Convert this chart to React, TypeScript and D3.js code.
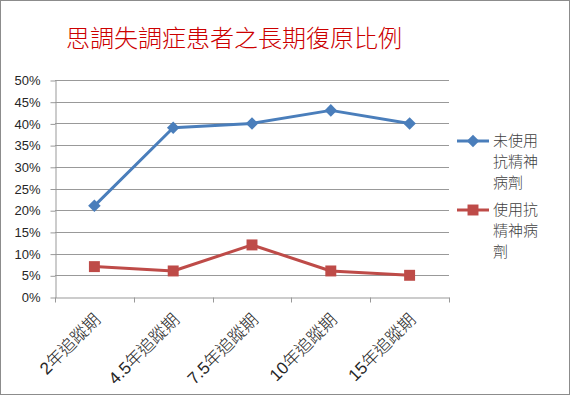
import { useRef, useEffect } from "react";
import * as d3 from "d3";

const categories = ["2年追蹤期", "4.5年追蹤期", "7.5年追蹤期", "10年追蹤期", "15年追蹤期"];
const noDrug = [21, 39, 40, 43, 40];
const withDrug = [7, 6, 12, 6, 5];
const yTicks = [0, 5, 10, 15, 20, 25, 30, 35, 40, 45, 50];
const legendNoDrug = ["未使用", "抗精神", "病劑"];
const legendWithDrug = ["使用抗", "精神病", "劑"];

export default function App() {
  const gRef = useRef(null);

  useEffect(() => {
    const w = 570;
    const h = 395;
    const left = 55;
    const right = 449;
    const top = 80;
    const bottom = 297;
    const font = "'Liberation Sans', 'Noto Sans CJK TC', sans-serif";
    const grid = "#999";

    const g = d3.select(gRef.current);
    g.selectAll("*").remove();

    // background + frame
    g.append("rect").attr("x", 0.5).attr("y", 0.5).attr("width", w - 1).attr("height", h - 1)
      .attr("fill", "#fff").attr("stroke", "#8c8c8c").attr("stroke-width", 1);

    g.append("text").attr("x", 234).attr("y", 47).attr("text-anchor", "middle")
      .attr("font-family", "'Noto Sans CJK TC', sans-serif").attr("font-size", 24)
      .attr("font-weight", 300)
      .attr("fill", "#cc0000").text("思調失調症患者之長期復原比例");

    const x = d3.scaleBand().domain(categories).range([left, right]);
    const y = d3.scaleLinear().domain([0, 50]).range([bottom, top]);

    // gridlines
    g.append("g").selectAll("line").data(yTicks.slice(1)).join("line")
      .attr("x1", left).attr("x2", right)
      .attr("y1", (d) => Math.round(y(d)) + 0.5).attr("y2", (d) => Math.round(y(d)) + 0.5)
      .attr("stroke", grid).attr("stroke-width", 1);

    // y axis
    const yAxis = g.append("g").attr("transform", `translate(${left + 0.5},0.5)`)
      .call(d3.axisLeft(y).tickValues(yTicks).tickSize(5).tickSizeOuter(0).tickFormat((d) => `${d}%`));
    yAxis.select(".domain").attr("stroke", grid);
    yAxis.selectAll(".tick line").attr("stroke", grid);
    yAxis.selectAll(".tick text").attr("x", -15).attr("font-family", font).attr("font-size", 13).attr("fill", "#262626");

    // x axis
    const xAxis = g.append("g").attr("transform", `translate(0,${bottom + 0.5})`)
      .call(d3.axisBottom(x).tickSize(0).tickSizeOuter(0));
    xAxis.select(".domain").attr("stroke", grid);
    const edges = categories.map((c) => x(c)!).concat([right]);
    xAxis.append("g").selectAll("line").data(edges).join("line")
      .attr("x1", (d) => Math.round(d) + 0.5).attr("x2", (d) => Math.round(d) + 0.5)
      .attr("y1", 0).attr("y2", 5).attr("stroke", grid);
    xAxis.selectAll(".tick text")
      .attr("font-family", "'Liberation Sans', 'Noto Sans CJK TC', sans-serif")
      .attr("font-size", 17).attr("font-weight", 300).attr("fill", "#262626")
      .attr("text-anchor", "end").attr("dy", "0.35em")
      .attr("transform", "translate(3,19) rotate(-45)")
      .attr("y", 0).attr("x", 0);

    const cx = (i: number) => x(categories[i])! + x.bandwidth() / 2;
    const line = d3.line<number>().x((_, i) => cx(i)).y((d) => y(d));

    const blue = "#4a7ebb";
    const red = "#be4b48";

    g.append("path").datum(noDrug).attr("d", line).attr("fill", "none")
      .attr("stroke", blue).attr("stroke-width", 3).attr("stroke-linejoin", "round");
    g.append("path").datum(withDrug).attr("d", line).attr("fill", "none")
      .attr("stroke", red).attr("stroke-width", 3).attr("stroke-linejoin", "round");

    const diamond = d3.symbol().type(d3.symbolDiamond2).size(100);
    const square = d3.symbol().type(d3.symbolSquare).size(120);

    g.append("g").selectAll("path").data(noDrug).join("path")
      .attr("d", diamond).attr("fill", blue)
      .attr("transform", (d, i) => `translate(${cx(i)},${y(d)})`);
    g.append("g").selectAll("path").data(withDrug).join("path")
      .attr("d", square).attr("fill", red)
      .attr("transform", (d, i) => `translate(${cx(i)},${y(d)})`);

    // legend
    const legend = [
      { color: blue, sym: diamond, lines: legendNoDrug, y0: 141 },
      { color: red, sym: square, lines: legendWithDrug, y0: 210 },
    ];
    legend.forEach((l) => {
      g.append("line").attr("x1", 457).attr("x2", 489).attr("y1", l.y0).attr("y2", l.y0)
        .attr("stroke", l.color).attr("stroke-width", 3);
      g.append("path").attr("d", l.sym).attr("fill", l.color)
        .attr("transform", `translate(473,${l.y0})`);
      g.append("g").selectAll("text").data(l.lines).join("text")
        .attr("x", 493).attr("y", (_, i) => l.y0 + i * 21)
        .attr("dy", "0.35em").attr("font-family", "'Noto Sans CJK TC', sans-serif")
        .attr("font-size", 15).attr("font-weight", 300).attr("fill", "#404040").text((d) => d);
    });
  }, []);

  return (
    <svg width={570} height={395} style={{ position: "absolute", left: 0, top: 0, display: "block" }}>
      <g ref={gRef}></g>
    </svg>
  );
}
